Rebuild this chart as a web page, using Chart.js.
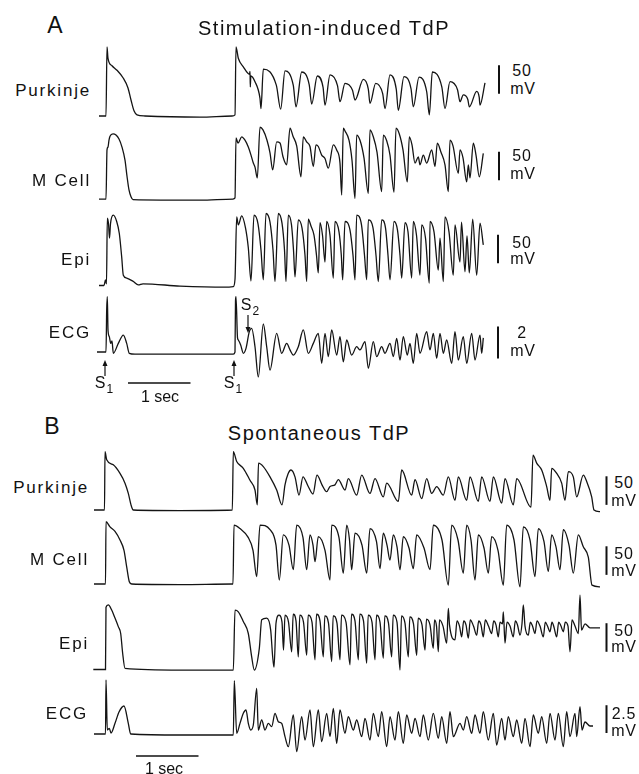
<!DOCTYPE html>
<html>
<head>
<meta charset="utf-8">
<script src="https://cdn.jsdelivr.net/npm/chart.js@4.4.0/dist/chart.umd.min.js"></script>
<style>
  html, body { margin: 0; padding: 0; background: #fff; }
  #page { position: relative; width: 639px; height: 774px; overflow: hidden;
          font-family: "Liberation Sans", Arial, sans-serif; color: #111; }
  #page canvas, #page svg { position: absolute; }
  .lbl { position: absolute; white-space: nowrap; line-height: 1; }
  .panel { font-size: 23px; transform: translate(-50%, -50%); }
  .title { font-size: 20px; letter-spacing: 1.5px; transform: translate(-50%, -50%); }
  .trace { font-size: 17px; letter-spacing: 1.8px; transform: translate(-100%, -50%); }
  .unit { font-size: 16px; letter-spacing: 0.8px; transform: translate(-50%, -50%); }
  .mark { font-size: 16px; transform: translate(-50%, -50%); }
  .sub { font-size: 12px; position: relative; top: 5px; margin-left: 1px; }
</style>
</head>
<body>
<div id="page"></div>
<script>
// time in ms, membrane potential in mV (ECG in mV)
const purkinjeA = [[0,-85],[112,-85],[128,36],[144,16],[208,3],[288,-5],[384,-18],[464,-36],[512,-57],[560,-76],[608,-83],[736,-85],[1616,-87],[2128,-85],[2176,-83],[2192,36],[2229,16],[2309,1],[2408,-12],[2416,-7],[2421,-34],[2429,-15],[2496,-25],[2576,-54],[2592,-72],
  [2629,-3],[2837,-31],[2907,-73],[2976,-6],[3108,-31],[3152,-69],[3243,-8],[3363,-30],[3403,-64],[3493,-15],[3585,-35],[3616,-66],
  [3696,-13],[3816,-32],[3856,-60],[3936,-28],[4056,-40],[4096,-57],[4229,-21],[4309,-38],[4336,-63],[4427,-28],[4539,-46],[4576,-72],
  [4656,-13],[4756,-38],[4789,-75],[4880,-16],[4992,-37],[5029,-69],[5120,-17],[5244,-43],[5285,-83],[5333,-8],[5485,-34],[5536,-72],
  [5616,-25],[5736,-39],[5776,-60],[5829,-48],[5901,-56],[5925,-69],[6043,-42],[6083,-52],[6096,-66],[6176,-27]];

const mCellA = [[0,-86],[112,-86],[128,0],[144,5],[160,17],[176,24],[224,28],[272,26],[320,19],[368,5],[416,-18],[448,-46],[480,-70],[512,-82],[544,-87],[1616,-88],[2144,-86],[2176,-84],
  [2192,21],[2224,12],[2283,23],[2336,17],[2389,5],[2432,-9],[2469,-23],[2496,-30],[2533,-49],[2576,40],[2624,35],[2688,17],[2736,-5],[2779,-35],[2843,14],[2896,12],[2944,-12],[3003,-26],
  [3056,38],[3104,24],[3163,7],[3232,-47],[3269,23],[3323,14],[3376,6],[3429,-29],[3472,9],[3509,6],[3563,-9],[3616,-15],[3669,-32],[3749,9],[3803,0],[3856,-23],[3883,-79],
  [3909,38],[3936,33],[4000,17],[4048,-18],[4096,-85],[4123,26],[4176,17],[4240,-14],[4309,-76],[4336,35],[4389,23],[4448,-4],[4523,-73],[4549,26],[4603,16],[4656,-9],[4720,-74],
  [4752,38],[4805,28],[4864,0],[4933,-56],[4965,23],[5008,9],[5056,-23],[5109,-12],[5136,-26],[5189,-9],[5243,-23],[5323,0],[5376,-29],[5413,12],[5472,-4],[5536,-26],[5589,-73],
  [5616,17],[5664,7],[5749,-41],[5776,0],[5824,-14],[5883,-56],[5909,-26],[5936,-49],[5989,12],[6032,-9],[6085,-47],[6149,-6]];

const epiA = [[0,-85],[80,-85],[104,-75],[120,-82],[133,33],[152,23],[168,-2],[184,23],[229,38],[283,27],[325,6],[363,-35],[389,-67],[443,-72],[549,-78],[629,-84],[704,-82],[1296,-86],[2016,-88],[2149,-87],[2176,-74],
  [2203,35],[2229,21],[2283,37],[2344,16],[2389,-19],[2432,-77],[2480,38],[2544,23],[2592,-23],[2629,-75],[2672,41],[2736,26],[2784,-23],[2816,-78],[2869,41],[2928,24],[2968,-23],[2992,-78],
  [3029,38],[3080,21],[3112,-23],[3136,-70],[3189,30],[3248,16],[3296,-32],[3323,-78],[3349,31],[3392,19],[3440,3],[3480,-32],[3509,-63],[3536,25],[3576,3],[3616,-44],[3643,27],[3696,3],[3749,-72],
  [3776,27],[3840,9],[3877,-32],[3899,-75],[3936,27],[4016,12],[4064,-32],[4096,-75],[4123,38],[4200,21],[4248,-32],[4283,-75],[4309,30],[4384,16],[4432,-32],[4469,-78],[4523,30],[4584,16],[4624,-32],[4656,-75],
  [4720,27],[4776,12],[4816,-32],[4843,-72],[4896,25],[4944,9],[5003,-72],[5029,27],[5080,3],[5136,-67],[5163,21],[5224,-2],[5285,-81],[5296,27],[5360,9],[5429,-58],[5456,-2],[5509,-78],
  [5536,35],[5600,9],[5669,-67],[5696,21],[5776,-44],[5800,26],[5856,-61],[5888,2],[5925,-63],[5979,31],[6043,-67],[6096,24],[6149,-14]];

const ecgA = [[-32,0],[112,0],[123,2.63],[133,3.46],[144,1.38],[165,0.96],[187,0.54],[208,0.69],[229,-0.08],[309,0.54],[389,1.06],[443,0.54],[485,-0.08],[576,-0.13],[2149,-0.13],[2176,0],[2184,3.2],[2192,3.46],
  [2216,0.9],[2229,0.75],[2267,0.44],[2309,-0.08],[2352,0.23],[2405,1.27],[2443,1.48],[2496,0.33],[2549,-1.56],[2629,1.75],[2683,0.33],[2736,-1.13],[2843,1.17],[2923,-0.08],[3003,0.54],[3056,0.13],[3109,-0.19],
  [3189,0.33],[3269,1.38],[3349,-0.08],[3429,0.54],[3509,1.17],[3563,-0.71],[3616,1.17],[3669,-0.29],[3723,1.38],[3803,-0.19],[3856,0.96],[3909,-0.61],[3963,0.75],[4043,-0.19],[4123,0.33],[4176,0.13],
  [4256,0.65],[4309,-1.02],[4389,0.65],[4443,-0.29],[4523,0.33],[4576,-0.08],[4656,0.54],[4709,-0.29],[4763,0.85],[4816,-0.5],[4869,0.96],[4933,-0.19],[4976,0.54],[5029,-0.71],[5083,1.17],[5136,-0.08],
  [5243,1.27],[5296,0.13],[5349,1.17],[5403,-0.39],[5456,1.17],[5509,-0.08],[5563,0.75],[5643,-0.71],[5696,1.27],[5749,-0.5],[5829,0.96],[5883,-0.71],[5963,1.17],[6016,-0.5],[6096,1.06],[6123,-0.08],[6149,0.88]];

const purkinjeB = [[0,-85],[168,-85],[176,17],[203,3],[309,-6],[416,-21],[496,-38],[549,-56],[592,-76],[629,-85],[1376,-86],[2213,-85],[2229,17],[2283,0],[2389,-12],[2496,-33],[2576,-50],[2613,-76],
  [2632,-3],[2709,-9],[2816,-27],[2923,-50],[3008,-76],[3056,-41],[3104,-22],[3152,-15],[3216,-27],[3280,-59],[3344,-27],[3424,-43],[3504,-57],[3568,-24],[3648,-41],[3723,-53],[3776,-44],[3856,-41],
  [3909,-32],[4016,-50],[4069,-30],[4203,-59],[4283,-24],[4416,-56],[4496,-30],[4629,-62],[4683,-38],[4869,-70],[4923,-15],[5083,-59],[5136,-32],[5243,-65],[5323,-30],[5403,-56],[5483,-44],[5589,-59],
  [5669,-27],[5776,-68],[5829,-27],[5963,-68],[6016,-27],[6149,-70],[6203,-27],[6336,-70],[6389,-27],[6523,-73],[6576,-30],[6709,-76],[6763,-30],[6992,-80],[7024,11],[7083,-3],[7163,-15],[7243,-44],
  [7296,-68],[7323,-12],[7403,-21],[7483,-38],[7536,-68],[7589,-18],[7669,-27],[7723,-62],[7829,-24],[7883,-35],[7963,-62],[8000,-85],[8096,-88]];

const mCellB = [[0,-85],[184,-85],[192,24],[256,15],[336,7],[416,-8],[480,-26],[523,-55],[565,-81],[603,-85],[1376,-86],[2213,-85],[2224,-85],[2240,18],[2336,12],[2464,-3],[2544,-26],[2603,-72],
  [2656,18],[2816,10],[2912,-17],[2965,-78],[3029,1],[3120,-17],[3189,-60],[3243,18],[3344,-4],[3403,-60],[3456,1],[3504,-17],[3536,-46],[3589,-2],[3696,-26],[3776,-78],
  [3803,18],[3920,-4],[3989,-66],[4043,18],[4088,-8],[4123,-60],[4176,4],[4288,-17],[4363,-66],[4416,12],[4520,-11],[4576,-58],[4629,4],[4688,-17],[4736,-43],[4789,1],[4848,-20],[4896,-60],
  [4949,-2],[5040,-22],[5109,-58],[5163,1],[5280,-22],[5376,-60],[5429,18],[5568,-8],[5669,-87],[5723,18],[5824,-8],[5909,-66],[5963,18],[6032,-8],[6096,-78],[6149,1],[6240,-22],[6309,-66],
  [6363,-2],[6464,-26],[6549,-87],[6603,18],[6720,-8],[6816,-90],[6869,15],[6976,-8],[7056,-72],[7109,12],[7200,-11],[7269,-63],[7323,1],[7392,-20],[7456,-60],[7509,10],[7600,-17],[7669,-66],
  [7749,1],[7829,-20],[7909,-38],[7968,-87],[8096,-90]];

const epiB = [[-11,-85],[184,-85],[192,24],[229,28],[283,19],[336,5],[389,-10],[427,-22],[459,-57],[496,-83],[1376,-86],[2229,-86],[2256,19],[2309,16],[2389,-1],[2469,-22],[2523,-63],[2565,-86],
  [2645,-48],[2683,2],[2763,5],[2827,-16],[2859,-63],[2880,-81],[2912,-4],[2960,10],[3008,-2],
  [3032,-51],[3056,10],[3112,-2],[3163,-54],[3187,12],[3232,0],[3269,-63],[3293,10],[3352,-2],[3403,-60],[3427,10],[3488,-2],[3536,-68],[3560,12],[3616,0],
  [3669,-63],[3693,9],[3752,-4],[3803,-71],[3827,9],[3888,-4],[3936,-68],[3960,10],[4032,-2],[4096,-77],[4120,12],[4176,0],[4229,-68],[4253,12],[4312,0],
  [4363,-74],[4387,10],[4448,-2],[4496,-68],[4520,10],[4576,-2],[4629,-65],[4653,9],[4712,-4],[4763,-63],[4787,10],[4848,-2],[4896,-86],[4920,9],[4976,-4],
  [5029,-63],[5053,7],[5112,-5],[5163,-60],[5187,5],[5248,-7],[5296,-51],[5320,3],[5376,-7],[5429,-48],[5448,2],[5480,-9],[5509,-54],[5528,2],[5584,-9],
  [5643,-39],[5669,22],[5688,-7],[5776,-33],[5808,0],[5848,-9],[5883,-28],[5915,0],[5952,-7],[5989,-30],[6021,2],[6072,-9],[6123,-25],[6155,0],[6192,-7],
  [6229,-28],[6261,2],[6312,-9],[6363,-22],[6395,0],[6432,-7],[6469,-28],[6496,-2],[6536,-5],[6549,16],[6576,-39],[6608,-2],[6656,-9],[6709,-28],[6741,0],[6776,-7],
  [6816,-25],[6848,-5],[6869,28],[6896,-9],[6949,-25],[6981,-2],[7016,-9],[7056,-22],[7088,0],[7136,-9],[7189,-28],[7221,-2],[7256,-9],[7296,-19],[7328,-2],[7360,-11],
  [7403,-28],[7435,-2],[7472,-9],[7509,-19],[7541,-2],[7584,-9],[7616,-54],[7648,2],[7696,-9],[7749,-22],[7776,45],[7800,-16],[7856,-5],[7936,-12],[8096,-12]];

const ecgB = [[0,0.09],[184,0.09],[192,4.95],[213,0.45],[245,0.6],[272,0.18],[336,1.05],[400,2.07],[480,2.61],[549,1.05],[587,0.09],[1376,0],[2229,0],[2245,4.89],[2283,0.15],[2336,1.05],[2389,1.95],
  [2432,2.25],[2469,1.05],[2507,0.45],[2549,0.9],[2603,4.2],[2629,0.45],[2683,1.35],[2736,0.45],[2789,1.05],[2843,0.75],[2896,1.95],[2949,1.2],[3003,1.05],[3056,-0.15],
  [3109,-1.05],[3189,1.8],[3243,-1.5],[3323,1.65],[3376,-0.45],[3456,2.25],[3509,-1.05],[3589,2.25],[3643,-0.6],[3723,1.95],[3776,-0.15],[3829,2.4],[3883,-0.75],[3936,2.25],[4016,0.15],
  [4069,1.65],[4149,0.45],[4203,1.35],[4283,-0.15],[4336,1.5],[4416,-0.45],[4469,1.95],[4549,-0.15],[4603,2.1],[4683,-1.05],[4736,1.65],[4816,-0.45],[4869,2.1],[4949,-0.75],[5003,1.8],
  [5083,0.15],[5136,1.5],[5216,-0.15],[5269,1.8],[5349,-0.45],[5429,1.95],[5509,-0.3],[5563,1.65],[5643,-0.75],[5696,2.1],[5749,-0.15],[5856,1.05],[5909,0.45],[5963,1.65],[6043,0.15],
  [6096,1.8],[6176,0.15],[6229,2.1],[6309,-0.45],[6389,1.95],[6443,-0.9],[6523,1.5],[6576,-0.45],[6629,1.65],[6709,-0.15],[6763,1.35],[6843,-0.75],[6896,1.5],[6976,-1.05],[7029,1.8],
  [7109,0.15],[7163,1.65],[7243,-0.75],[7296,1.95],[7376,-0.45],[7429,1.95],[7509,-1.05],[7563,2.1],[7616,-0.15],[7696,1.95],[7723,-0.15],[7776,2.55],[7808,0.45],[7856,1.17],[7936,0.81],[7984,0.81]];

const traceNames = ['Purkinje', 'M Cell', 'Epi', 'ECG'];
const unitValuesA = ['50', '50', '50', '2'];
const unitValuesB = ['50', '50', '50', '2.5'];
const panelTitles = ['Stimulation-induced TdP', 'Spontaneous TdP'];
const timeBarLabel = '1 sec';

// layout
const MS_PER_PX = 16;
const panels = {
  A: { left: 95, width: 412, tMin: -64 },
  B: { left: 90, width: 522, tMin: -64 }
};
const traces = [
  { panel: 'A', data: purkinjeA, top: 38, h: 90, base: 116, rest: -85, k: 1.75, vbar: { t: 6400, from: -46, size: 50 } },
  { panel: 'A', data: mCellA, top: 122, h: 88, base: 198.5, rest: -85, k: 1.75, vbar: { t: 6400, from: -53, size: 50 } },
  { panel: 'A', data: epiA, top: 205, h: 88, base: 285.5, rest: -85, k: 1.75, vbar: { t: 6384, from: -46, size: 50 } },
  { panel: 'A', data: ecgA, top: 290, h: 100, base: 352, rest: 0, k: 0.0625, vbar: { t: 6384, from: -0.4, size: 2 }, hbar: { t: 464, size: 1000, at: -1.94 } },
  { panel: 'B', data: purkinjeB, top: 445, h: 75, base: 510, rest: -85, k: 1.75, vbar: { t: 8200, from: -76, size: 50 } },
  { panel: 'B', data: mCellB, top: 515, h: 80, base: 584, rest: -85, k: 1.75, vbar: { t: 8200, from: -69, size: 50 } },
  { panel: 'B', data: epiB, top: 592, h: 85, base: 669.5, rest: -85, k: 1.75, vbar: { t: 8200, from: -54, size: 50 } },
  { panel: 'B', data: ecgB, top: 672, h: 100, base: 735, rest: 0, k: 0.09, vbar: { t: 8200, from: 0.18, size: 2.5 }, hbar: { t: 672, size: 1000, at: -1.89 } }
];

const page = document.getElementById('page');

const scaleBars = {
  id: 'scaleBars',
  afterDatasetsDraw(chart, args, opts) {
    const { ctx } = chart;
    const x = chart.scales.x, y = chart.scales.y;
    ctx.save();
    ctx.strokeStyle = '#111';
    if (opts.v) {
      ctx.lineWidth = 2;
      const px = x.getPixelForValue(opts.v.t);
      ctx.beginPath();
      ctx.moveTo(px, y.getPixelForValue(opts.v.from));
      ctx.lineTo(px, y.getPixelForValue(opts.v.from + opts.v.size));
      ctx.stroke();
    }
    if (opts.h) {
      ctx.lineWidth = 1.5;
      const py = y.getPixelForValue(opts.h.at);
      ctx.beginPath();
      ctx.moveTo(x.getPixelForValue(opts.h.t), py);
      ctx.lineTo(x.getPixelForValue(opts.h.t + opts.h.size), py);
      ctx.stroke();
    }
    ctx.restore();
  }
};

traces.forEach(tr => {
  const p = panels[tr.panel];
  const c = document.createElement('canvas');
  c.width = p.width; c.height = tr.h;
  c.style.left = p.left + 'px'; c.style.top = tr.top + 'px';
  c.style.width = p.width + 'px'; c.style.height = tr.h + 'px';
  page.appendChild(c);
  new Chart(c, {
    type: 'line',
    data: {
      datasets: [{
        data: tr.data,
        borderColor: '#141414',
        borderWidth: 1.3,
        pointRadius: 0,
        cubicInterpolationMode: 'monotone',
        fill: false
      }]
    },
    options: {
      responsive: false,
      animation: false,
      devicePixelRatio: 1,
      events: [],
      layout: { padding: 0 },
      plugins: { legend: { display: false }, tooltip: { enabled: false }, scaleBars: { v: tr.vbar, h: tr.hbar } },
      scales: {
        x: { type: 'linear', display: false, min: p.tMin, max: p.tMin + p.width * MS_PER_PX },
        y: { display: false, min: tr.rest - (tr.top + tr.h - tr.base) * tr.k, max: tr.rest + (tr.base - tr.top) * tr.k }
      }
    },
    plugins: [scaleBars]
  });
});

function addText(html, x, y, cls) {
  const d = document.createElement('div');
  d.className = 'lbl ' + cls;
  d.style.left = x + 'px'; d.style.top = y + 'px';
  d.innerHTML = html;
  page.appendChild(d);
}

addText('A', 55, 24.5, 'panel');
addText(panelTitles[0], 324, 28, 'title');
addText('B', 52, 426, 'panel');
addText(panelTitles[1], 319, 433, 'title');

const labelPosA = [[91, 89.5], [91, 180], [91, 258.5], [91, 331.5]];
const labelPosB = [[89, 487], [89, 559], [89, 643], [88, 713]];
const unitPosA = [[522, 71, 88.5], [522, 156, 174], [522, 242.5, 258.5], [522, 333, 350.5]];
const unitPosB = [[624, 482.5, 500.5], [624, 553.7, 570.5], [624, 630.5, 647], [624, 713.5, 730.5]];
traceNames.forEach((n, i) => {
  addText(n, labelPosA[i][0], labelPosA[i][1], 'trace');
  addText(n, labelPosB[i][0], labelPosB[i][1], 'trace');
  addText(unitValuesA[i], unitPosA[i][0], unitPosA[i][1], 'unit');
  addText('mV', unitPosA[i][0] + 1, unitPosA[i][2], 'unit');
  addText(unitValuesB[i], unitPosB[i][0], unitPosB[i][1], 'unit');
  addText('mV', unitPosB[i][0], unitPosB[i][2], 'unit');
});
addText(timeBarLabel, 160, 397, 'mark');
addText(timeBarLabel, 164, 769, 'mark');
addText('S<span class="sub">1</span>', 104, 383, 'mark');
addText('S<span class="sub">1</span>', 233, 383, 'mark');
addText('S<span class="sub">2</span>', 250, 305, 'mark');

// stimulus arrows
const svgNS = 'http://www.w3.org/2000/svg';
const svg = document.createElementNS(svgNS, 'svg');
svg.setAttribute('width', 639); svg.setAttribute('height', 774);
svg.style.left = '0px'; svg.style.top = '0px';
const arrows = [[105, 376, 360], [234, 376, 360], [248, 315, 333]];
arrows.forEach(([x, y1, y2]) => {
  const dir = y2 < y1 ? 1 : -1;
  const l = document.createElementNS(svgNS, 'line');
  l.setAttribute('x1', x); l.setAttribute('x2', x);
  l.setAttribute('y1', y1); l.setAttribute('y2', y2 + dir * 3);
  l.setAttribute('stroke', '#111'); l.setAttribute('stroke-width', '1.2');
  svg.appendChild(l);
  const h = document.createElementNS(svgNS, 'polygon');
  h.setAttribute('points', `${x},${y2} ${x - 2.5},${y2 + dir * 6} ${x + 2.5},${y2 + dir * 6}`);
  h.setAttribute('fill', '#111');
  svg.appendChild(h);
});
page.appendChild(svg);
</script>
</body>
</html>
